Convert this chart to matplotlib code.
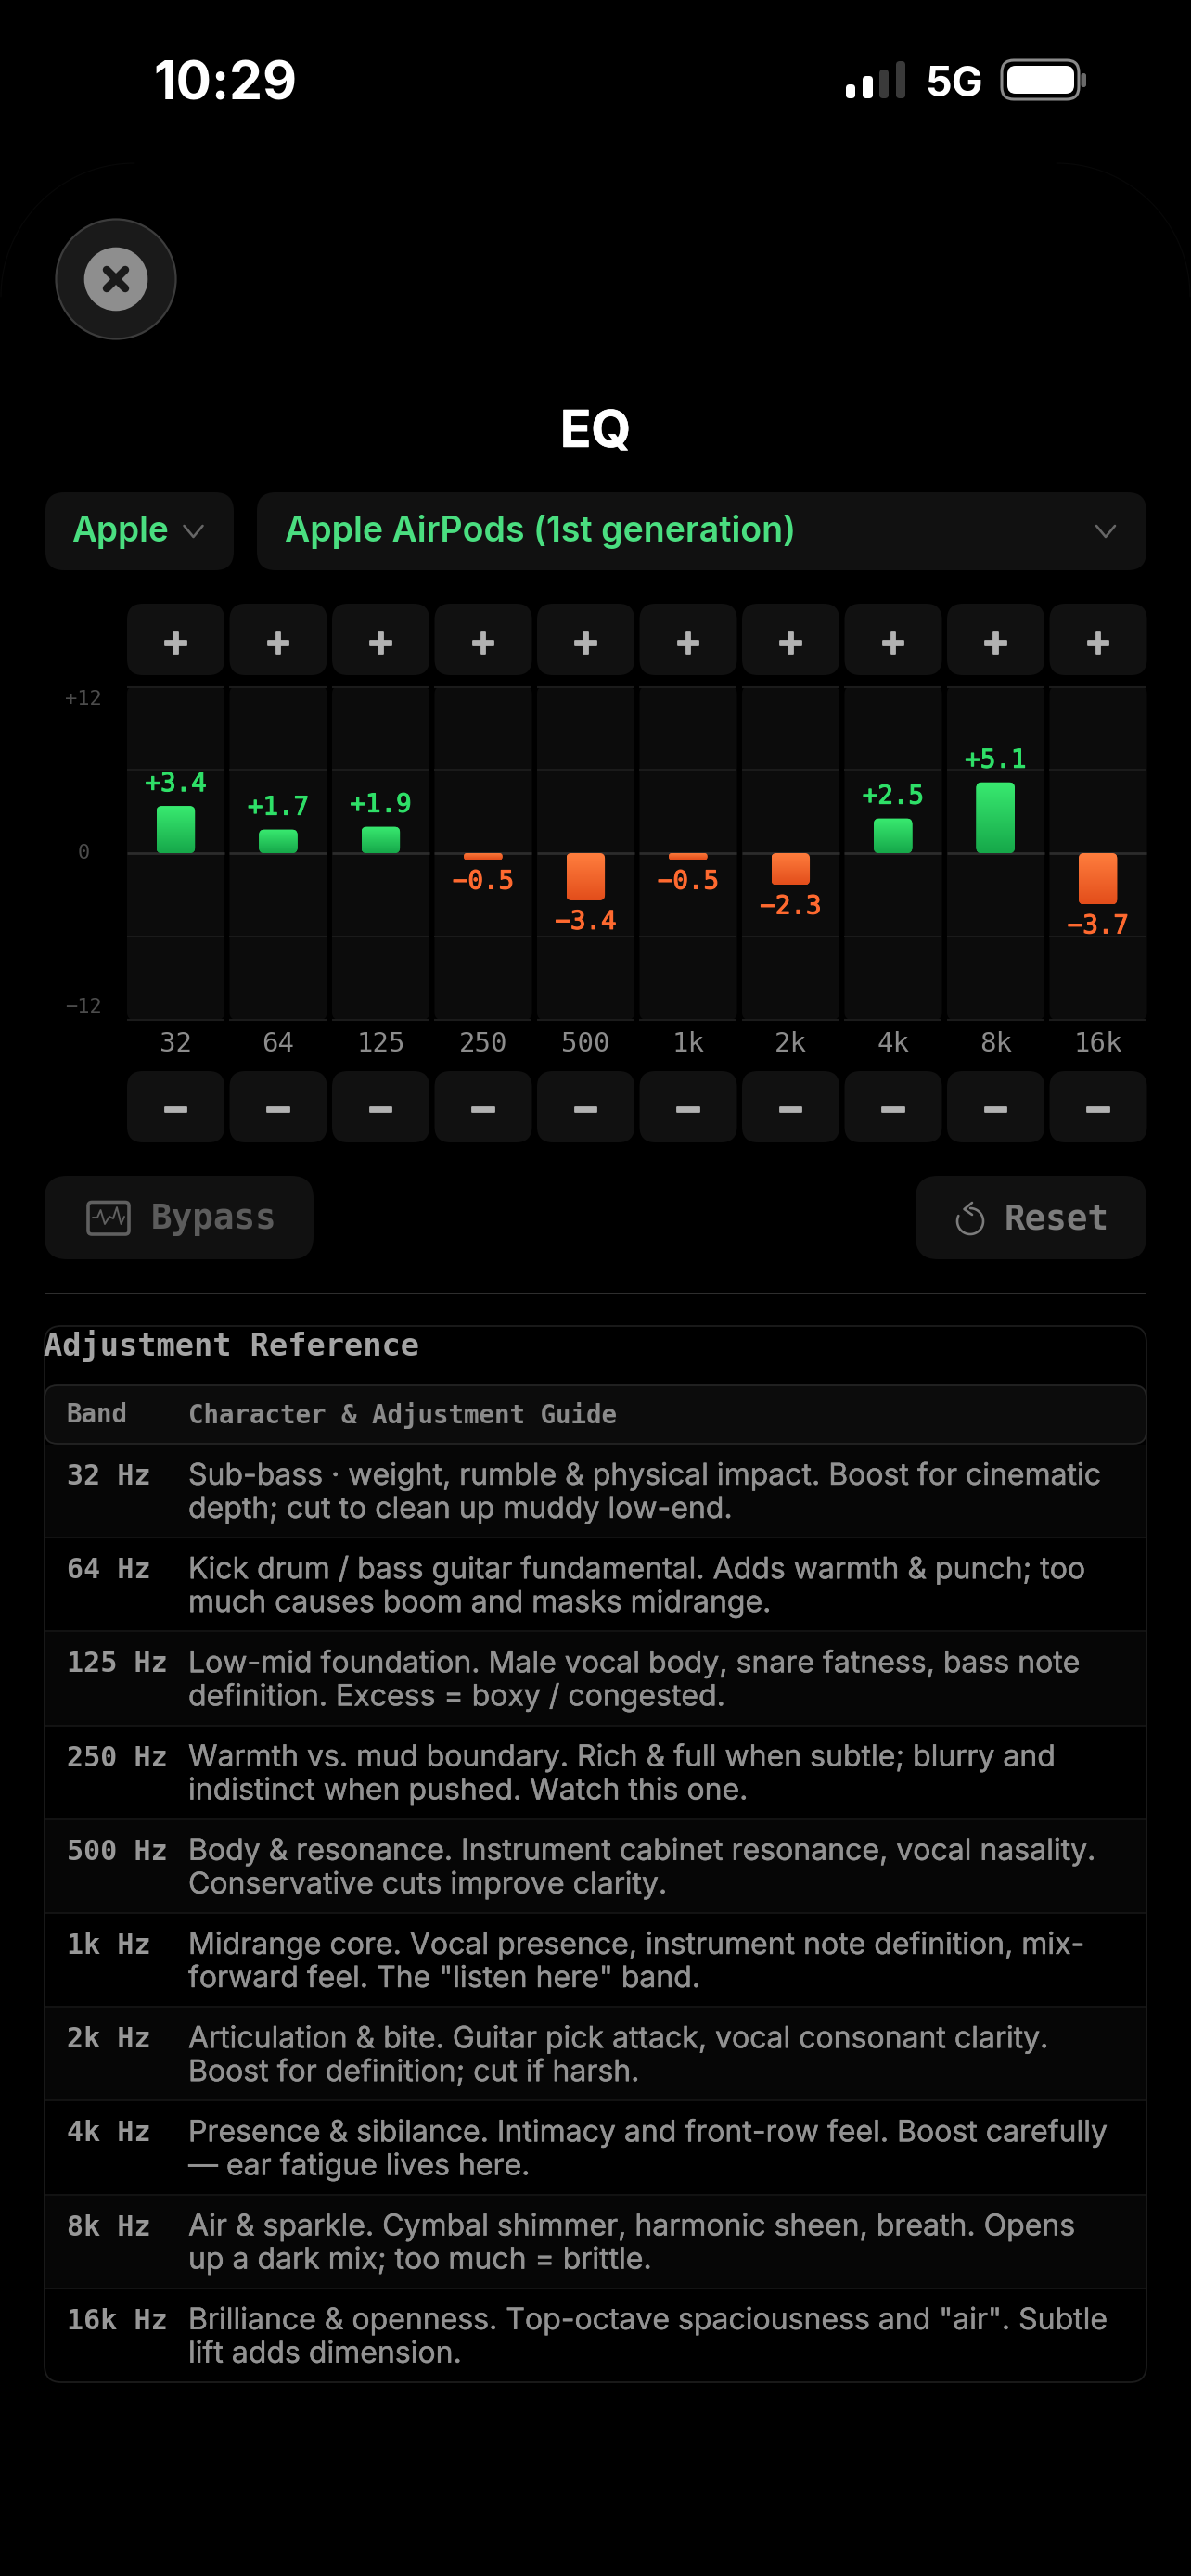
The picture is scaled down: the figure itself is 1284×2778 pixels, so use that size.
import numpy as np
import matplotlib
matplotlib.use("Agg")
import matplotlib.pyplot as plt
from matplotlib.patches import FancyBboxPatch, Circle
from matplotlib.colors import LinearSegmentedColormap
from matplotlib.transforms import ScaledTranslation
import matplotlib.patheffects as pe

W, H = 1284, 2778
MONO = "DejaVu Sans Mono"
SANS = "Inter"

FREQ_LABELS = ["32", "64", "125", "250", "500", "1k", "2k", "4k", "8k", "16k"]
GAINS = [3.4, 1.7, 1.9, -0.5, -3.4, -0.5, -2.3, 2.5, 5.1, -3.7]
DB_TICKS = [12, 0, -12]
DB_TICK_LABELS = ["+12", "0", "\u221212"]
DB_GRID = [12, 6, -6, -12]
TABLE_BANDS = ["32 Hz", "64 Hz", "125 Hz", "250 Hz", "500 Hz", "1k Hz", "2k Hz", "4k Hz", "8k Hz", "16k Hz"]
TABLE_LINE1 = [
    "Sub-bass \u00b7 weight, rumble & physical impact. Boost for cinematic",
    "Kick drum / bass guitar fundamental. Adds warmth & punch; too",
    "Low-mid foundation. Male vocal body, snare fatness, bass note",
    "Warmth vs. mud boundary. Rich & full when subtle; blurry and",
    "Body & resonance. Instrument cabinet resonance, vocal nasality.",
    "Midrange core. Vocal presence, instrument note definition, mix-",
    "Articulation & bite. Guitar pick attack, vocal consonant clarity.",
    "Presence & sibilance. Intimacy and front-row feel. Boost carefully",
    "Air & sparkle. Cymbal shimmer, harmonic sheen, breath. Opens",
    "Brilliance & openness. Top-octave spaciousness and \"air\". Subtle",
]
TABLE_LINE2 = [
    "depth; cut to clean up muddy low-end.",
    "much causes boom and masks midrange.",
    "definition. Excess = boxy / congested.",
    "indistinct when pushed. Watch this one.",
    "Conservative cuts improve clarity.",
    "forward feel. The \"listen here\" band.",
    "Boost for definition; cut if harsh.",
    "\u2014 ear fatigue lives here.",
    "up a dark mix; too much = brittle.",
    "lift adds dimension.",
]

fig = plt.figure(figsize=(W / 100, H / 100), dpi=100, facecolor="black")
ui = fig.add_axes([0, 0, 1, 1], zorder=1)
ui.set_xlim(0, W)
ui.set_ylim(H, 0)
ui.axis("off")


def T(x, y, s, px, color, family=SANS, weight="normal", ha="left", va="center", ax=ui, **kw):
    return ax.text(x, y, s, fontsize=px * 0.72, color=color, family=family,
                   fontweight=weight, ha=ha, va=va, **kw)


def RR(x0, y0, x1, y1, r, fc, ec="none", lw=0, z=1):
    p = FancyBboxPatch((x0, y0), x1 - x0, y1 - y0,
                       boxstyle=f"round,pad=0,rounding_size={r}",
                       fc=fc, ec=ec, lw=lw, zorder=z)
    ui.add_patch(p)
    return p


def L(xs, ys, color, lw, z=3, **kw):
    ui.plot(xs, ys, color=color, lw=lw * 0.72, zorder=z, solid_capstyle=kw.pop("cap", "round"),
            solid_joinstyle="round", **kw)


# --- status bar
T(165, 92, "10:29", 57, "white", weight="bold")
for x0, x1, top, col in [(912, 922, 91, "white"), (930, 941, 82, "white"),
                         (948, 958, 75, "#3a3a3a"), (966, 976, 66, "#3a3a3a")]:
    RR(x0, top, x1, 106, 4, col, z=2)
T(997, 92, "5G", 45, "white", weight="bold")
RR(1080, 65, 1163, 107, 13, "none", ec="#8a8a8a", lw=2.2, z=2)
RR(1086, 71, 1158, 101, 9, "white", z=3)
RR(1165.5, 79, 1171, 94, 2.5, "#6a6a6a", z=2)

# --- faint sheet corners
th = np.linspace(np.pi, 1.5 * np.pi, 40)
L(145 + 144 * np.cos(th), 320 + 144 * np.sin(th), "#080808", 1.2, z=0)
L(W - 145 - 144 * np.cos(th), 320 + 144 * np.sin(th), "#080808", 1.2, z=0)

# --- close button
ui.add_patch(Circle((125, 301), 64.5, fc="#1a1a1a", ec="#3c3c3c", lw=1.6, zorder=2))
ui.add_patch(Circle((125, 301), 34.3, fc="#8e8e8e", ec="none", zorder=3))
L([115, 135], [291, 311], "#1a1a1a", 8.5, z=4)
L([135, 115], [291, 311], "#1a1a1a", 8.5, z=4)

# --- title + dropdowns
T(642, 467, "EQ", 55, "white", weight="bold", ha="center",
  path_effects=[pe.withStroke(linewidth=0.4, foreground="white")])
RR(49, 531, 252, 615, 20, "#111111")
RR(277, 531, 1236, 615, 20, "#111111")
T(77, 574, "Apple", 37, "#4ade80", weight="semibold")
T(307, 574, "Apple AirPods (1st generation)", 37.5, "#4ade80", weight="semibold")
for cx in (208.5, 1192):
    L([cx - 10, cx, cx + 10], [567, 579, 567], "#666666", 2.6)

# --- band buttons and column backgrounds
COL_X = [137 + 110.5 * i for i in range(10)]
COL_W = 105
thick = [pe.withStroke(linewidth=1.3, foreground="#b2b2b2")]
for x0 in COL_X:
    RR(x0, 651, x0 + COL_W, 728, 17, "#111111")
    RR(x0, 740, x0 + COL_W, 1100, 8, "#0c0c0c")
    RR(x0, 1155, x0 + COL_W, 1232, 17, "#111111")
    T(x0 + COL_W / 2, 690, "+", 42, "#b2b2b2", family=MONO, weight="bold", ha="center", va="center_baseline", path_effects=thick)
    T(x0 + COL_W / 2, 1193, "\u2212", 44, "#b2b2b2", family=MONO, weight="bold", ha="center", va="center_baseline", path_effects=thick)

# --- EQ chart axes: x = band index, y = gain in dB
CH_L, CH_R, CH_T, CH_B = 137, 1236.5, 740.5, 1099.5
ax = fig.add_axes([CH_L / W, 1 - CH_B / H, (CH_R - CH_L) / W, (CH_B - CH_T) / H], zorder=2)
ax.patch.set_alpha(0)
for s in ax.spines.values():
    s.set_visible(False)
idx = np.arange(len(GAINS))
xlim = (-0.475, 9.478)
ylim = (-12, 12)

for g in DB_GRID:
    ax.hlines([g] * len(idx), idx - 0.475, idx + 0.475, color="#1b1b1b", lw=1.5, clip_on=False, zorder=1)
ax.hlines([0] * len(idx), idx - 0.475, idx + 0.475, color="#2c2c2c", lw=2.0, zorder=1)

BAR_W = 0.376
GREEN = LinearSegmentedColormap.from_list("g", ["#16a84a", "#39ea70"])
ORANGE = LinearSegmentedColormap.from_list("o", ["#e34e1b", "#ff7e3e"])
px_x = (CH_R - CH_L) / (xlim[1] - xlim[0])
px_y = (CH_B - CH_T) / (ylim[1] - ylim[0])
grad = np.linspace(1, 0, 64).reshape(-1, 1)
bars = ax.bar(idx, GAINS, width=BAR_W, color=["#28c95c" if v > 0 else "#f0622c" for v in GAINS], zorder=2)
for b, i, v in zip(bars, idx, GAINS):
    lo, hi = min(0, v), max(0, v)
    r = min(6.0, abs(v) * px_y / 2 - 0.2)
    clip = FancyBboxPatch((i - BAR_W / 2, lo), BAR_W, hi - lo,
                          boxstyle=f"round,pad=0,rounding_size={r / px_x}",
                          mutation_aspect=px_x / px_y, fc="none", ec="none", transform=ax.transData)
    ax.add_patch(clip)
    b.set_clip_path(clip)
    im = ax.imshow(grad, extent=(i - BAR_W / 2, i + BAR_W / 2, lo, hi), aspect="auto",
                   cmap=GREEN if v > 0 else ORANGE, vmin=0, vmax=1, zorder=3, interpolation="bilinear")
    im.set_clip_path(clip)
    col = "#2fe068" if v > 0 else "#ff6a30"
    ax.annotate(f"{v:+.1f}".replace("-", "\u2212"), (i, v), xytext=(0, (24 if v > 0 else -23) * 0.72),
                textcoords="offset points", ha="center", va="center", family=MONO,
                fontsize=27.5 * 0.72, color=col, zorder=4,
                path_effects=[pe.withStroke(linewidth=0.8, foreground=col)])
ax.set_xlim(*xlim)
ax.set_ylim(*ylim)
ax.set_xticks(idx, FREQ_LABELS, family=MONO, fontsize=29 * 0.72, color="#8c8c8c")
ax.set_yticks(DB_TICKS, DB_TICK_LABELS, family=MONO, fontsize=22 * 0.72, color="#4c4c4c")
ax.tick_params(axis="x", length=0, pad=12 * 0.72)
ax.tick_params(axis="y", length=0, pad=47 * 0.72)
for t, va, dy in zip(ax.get_yticklabels(), ["top", "center", "bottom"], [-3.5, 0.5, 3.5]):
    t.set_ha("center")
    t.set_va(va)
    t.set_transform(t.get_transform() + ScaledTranslation(0, dy / 100, fig.dpi_scale_trans))

# --- bypass / reset
RR(48, 1268, 338, 1358, 24, "#111111")
RR(987, 1268, 1236, 1358, 24, "#111111")
RR(95, 1296.5, 139, 1331, 4, "none", ec="#606060", lw=2.6, z=3)
L([100, 105, 108.5, 113, 118, 122, 126, 130.5, 134],
  [1313, 1313, 1305, 1320, 1312, 1314, 1302, 1320, 1312], "#606060", 1.9)
T(162.5, 1315, "Bypass", 37.5, "#5c5c5c", family=MONO, weight="bold")
T(1083, 1315, "Reset", 37.5, "#7c7c7c", family=MONO, weight="bold")
a = np.radians(np.linspace(-90, 205, 60))
L(1046 + 14 * np.cos(a), 1317 + 14 * np.sin(a), "#7c7c7c", 2.6)
L([1048, 1039.5, 1048], [1297, 1304, 1310], "#7c7c7c", 2.6)

# --- divider and table
L([48, 1236], [1394.5, 1394.5], "#2e2e2e", 2, z=1, cap="butt")
RR(48, 1430, 1236, 2569, 18, "none", ec="#1c1c1c", lw=1.3, z=2)
T(47, 1451.5, "Adjustment Reference", 33.7, "#a4a4a4", family=MONO, weight="bold")
RR(48, 1494, 1236, 1557, 14, "#0c0c0c", ec="#242424", lw=1.3, z=2)
T(71.5, 1526.5, "Band", 27.5, "#8a8a8a", family=MONO, weight="bold")
T(203, 1526.5, "Character & Adjustment Guide", 27.5, "#8a8a8a", family=MONO, weight="bold")
ROW_H = 101.2
soft = [pe.withStroke(linewidth=0.3, foreground="#929292")]
for i, (band, l1, l2) in enumerate(zip(TABLE_BANDS, TABLE_LINE1, TABLE_LINE2)):
    top = 1557 + ROW_H * i
    if i % 2 == 0:
        ui.fill_between([49, 1235], top + 1, top + ROW_H, color="#060606", lw=0, zorder=0.5)
    if i > 0:
        L([48, 1236], [top, top], "#181818", 1.5, z=1, cap="butt")
    T(71.5, top + 44, band, 30, "#989898", family=MONO, weight="bold", va="baseline")
    T(203, top + 44, l1, 32, "#929292", va="baseline", path_effects=soft)
    T(203, top + 80, l2, 32, "#929292", va="baseline", path_effects=soft)

fig.savefig("out.png", dpi=100, facecolor="black")
